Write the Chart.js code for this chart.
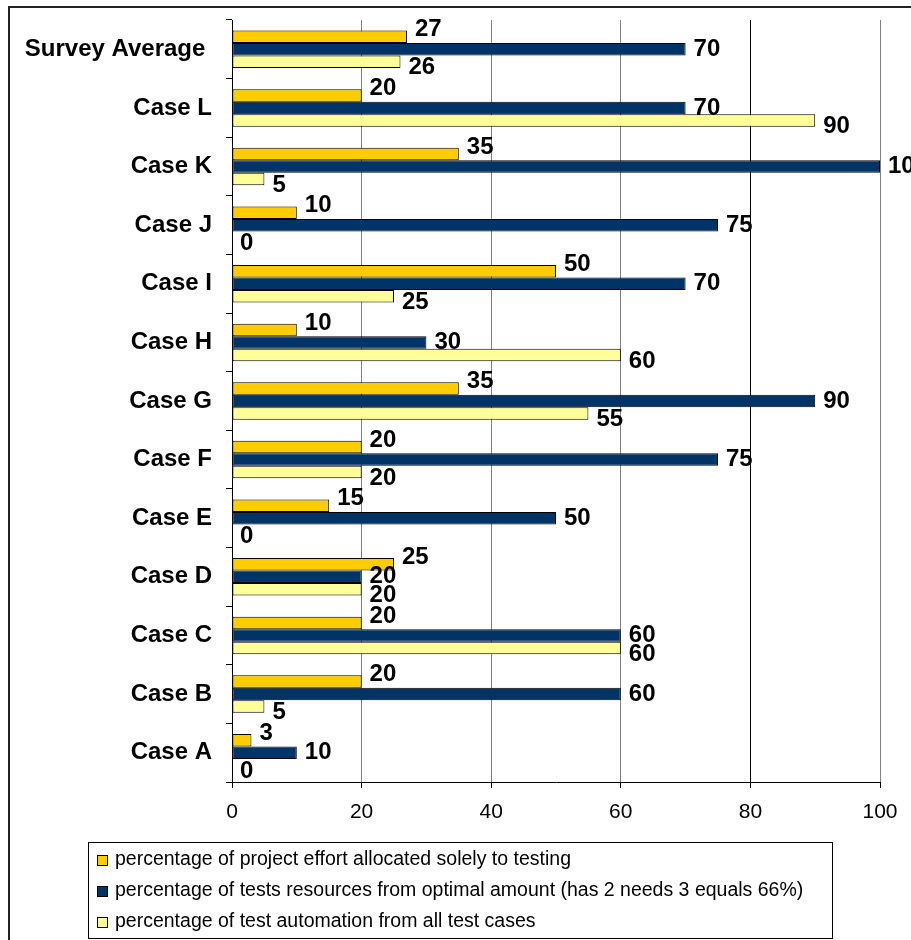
<!DOCTYPE html>
<html>
<head>
<meta charset="utf-8">
<script src="https://cdn.jsdelivr.net/npm/chart.js@4.4.1/dist/chart.umd.min.js"></script>
<style>
  html, body { margin: 0; padding: 0; background: #fff; overflow: hidden; }
  #wrap { position: relative; width: 911px; height: 940px; }
  #frame { position: absolute; left: 8px; top: 6px; width: 940px; height: 960px; border: 2px solid #222; box-sizing: border-box; pointer-events: none; }
</style>
</head>
<body>
<div id="wrap">
  <canvas id="chart"></canvas>
  <div id="frame"></div>
</div>
<script>
const categories = ['Survey Average ', 'Case L', 'Case K', 'Case J', 'Case I', 'Case H', 'Case G',
  'Case F', 'Case E', 'Case D', 'Case C', 'Case B', 'Case A'];
const effortTesting = [27, 20, 35, 10, 50, 10, 35, 20, 15, 25, 20, 20, 3];
const testResources = [70, 70, 100, 75, 70, 30, 90, 75, 50, 20, 60, 60, 10];
const testAutomation = [26, 90, 5, 0, 25, 60, 55, 20, 0, 20, 60, 5, 0];
const seriesNames = [
  'percentage of project effort allocated solely to testing',
  'percentage of tests resources from optimal amount (has 2 needs 3 equals 66%)',
  'percentage of test automation from all test cases'
];
const seriesColors = ['#FFCC00', '#003366', '#FFFF99'];
const xTicks = [0, 20, 40, 60, 80, 100];

const FONT = "'Liberation Sans', Arial, sans-serif";

// value labels next to the bar ends
const valueLabels = {
  id: 'valueLabels',
  afterDatasetsDraw(chart) {
    const ctx = chart.ctx;
    const dy = [-7, 0, 6];
    ctx.save();
    ctx.font = 'bold 24px ' + FONT;
    ctx.fillStyle = '#000';
    ctx.textBaseline = 'middle';
    ctx.textAlign = 'left';
    chart.data.datasets.forEach((ds, i) => {
      chart.getDatasetMeta(i).data.forEach((bar, j) => {
        ctx.fillText(String(ds.data[j]), bar.x + 8, bar.y + dy[i]);
      });
    });
    ctx.restore();
  }
};

// boxed legend, left aligned, one series per row
const boxLegend = {
  id: 'boxLegend',
  afterDraw(chart) {
    const ctx = chart.ctx;
    const left = 88, top = chart.chartArea.bottom + 60, w = 744, h = 96;
    ctx.save();
    ctx.fillStyle = '#fff';
    ctx.fillRect(left, top, w, h);
    ctx.strokeStyle = '#000';
    ctx.lineWidth = 1;
    ctx.strokeRect(left + 0.5, top + 0.5, w, h);
    ctx.font = '19.5px ' + FONT;
    ctx.textBaseline = 'middle';
    chart.data.datasets.forEach((ds, i) => {
      const y = top + 18 + i * 31;
      ctx.fillStyle = ds.backgroundColor;
      ctx.fillRect(left + 9, y - 5, 10, 10);
      ctx.strokeStyle = '#000';
      ctx.strokeRect(left + 9.5, y - 4.5, 10, 10);
      ctx.fillStyle = '#000';
      ctx.fillText(ds.label, left + 27, y);
    });
    ctx.restore();
  }
};

const datasets = [effortTesting, testResources, testAutomation].map((d, i) => ({
  label: seriesNames[i],
  data: d,
  backgroundColor: seriesColors[i],
  borderColor: '#000',
  borderWidth: 1,
  borderSkipped: false,
  categoryPercentage: 0.64,
  barPercentage: 1.0
}));

new Chart(document.getElementById('chart'), {
  type: 'bar',
  data: { labels: categories, datasets: datasets },
  options: {
    indexAxis: 'y',
    responsive: true,
    maintainAspectRatio: false,
    animation: false,
    layout: { padding: { top: 20, right: 31, bottom: 116, left: 0 } },
    plugins: {
      legend: { display: false },
      tooltip: { enabled: false }
    },
    scales: {
      y: {
        afterFit(scale) {
          scale.width = 232;
          scale.paddingTop = 0;
          scale.paddingBottom = 0;
        },
        grid: { drawOnChartArea: false, drawTicks: true, tickLength: 6, tickColor: '#000', offset: true },
        border: { color: '#000', width: 1 },
        ticks: { color: '#000', padding: 14, font: { family: FONT, size: 24, weight: 'bold' } }
      },
      x: {
        min: 0,
        max: 100,
        afterBuildTicks(scale) { scale.ticks = xTicks.map(v => ({ value: v })); },
        afterFit(scale) { scale.height = 42; },
        grid: {
          color: c => (c.tick && c.tick.value === 80) ? '#000' : '#808080',
          tickColor: '#000',
          tickLength: 6
        },
        border: { color: '#000', width: 1 },
        ticks: { color: '#000', padding: 12, font: { family: FONT, size: 21 } }
      }
    }
  },
  plugins: [valueLabels, boxLegend]
});
</script>
</body>
</html>
